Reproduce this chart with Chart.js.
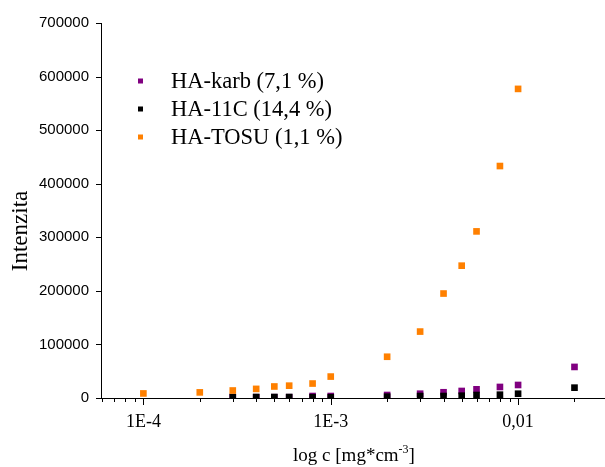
<!DOCTYPE html>
<html>
<head>
<meta charset="utf-8">
<script src="https://cdn.jsdelivr.net/npm/chart.js@4.4.1/dist/chart.umd.min.js"></script>
<style>
  html, body { margin: 0; padding: 0; background: #ffffff; }
  #wrap { width: 605px; height: 467px; }
</style>
</head>
<body>
<div id="wrap"><canvas id="chart" width="605" height="467"></canvas></div>
<script>
// Series names and colours
const seriesNames = ['HA-karb (7,1 %)', 'HA-11C (14,4 %)', 'HA-TOSU (1,1 %)'];
const seriesColors = ['#800080', '#000000', '#ff8000'];

// Concentration c [mg*cm^-3] and measured intensity for each sample
const concKarb = [3e-4, 4e-4, 5e-4, 6e-4, 8e-4, 1e-3, 2e-3, 3e-3, 4e-3, 5e-3, 6e-3, 8e-3, 1e-2, 2e-2];
const intKarb  = [1500, 1500, 1500, 1500, 3700, 3700, 5600, 8000, 10700, 13100, 16200, 20600, 24300, 58000];

const conc11C = [3e-4, 4e-4, 5e-4, 6e-4, 8e-4, 1e-3, 2e-3, 3e-3, 4e-3, 5e-3, 6e-3, 8e-3, 1e-2, 2e-2];
const int11C  = [1800, 1800, 1800, 1800, 1500, 1500, 2500, 3700, 3700, 4300, 5600, 6200, 8000, 19300];

const concTosu = [1e-4, 2e-4, 3e-4, 4e-4, 5e-4, 6e-4, 8e-4, 1e-3, 2e-3, 3e-3, 4e-3, 5e-3, 6e-3, 8e-3, 1e-2];
const intTosu  = [8500, 10500, 14000, 17000, 21500, 23000, 27000, 40000, 77000, 124000, 195000, 247000, 311000, 433000, 577000];

// Axis ticks and labels
const xMajorTicks  = [1e-4, 1e-3, 1e-2];
const xMajorLabels = ['1E-4', '1E-3', '0,01'];
const xMin = 5.94e-5, xMax = 0.0291;
const yTicks = [0, 100000, 200000, 300000, 400000, 500000, 600000, 700000];

const yTitle = 'Intenzita';
const xTitleMain = 'log c [mg*cm';
const xTitleSup = '-3';
const xTitleEnd = ']';

const serif = '"Liberation Serif", "Times New Roman", Times, serif';
const sans = '"Liberation Sans", Arial, Helvetica, sans-serif';

function toPoints(xs, ys) {
  return xs.map((x, i) => ({ x: x, y: ys[i] }));
}

// All log-scale tick positions (1..9 per decade) inside the axis range
function logTickValues(min, max) {
  const out = [];
  for (let e = Math.floor(Math.log10(min)); e <= Math.ceil(Math.log10(max)); e++) {
    for (let m = 1; m <= 9; m++) {
      const v = +(m * Math.pow(10, e)).toPrecision(6);
      if (v >= min && v <= max) out.push(v);
    }
  }
  return out;
}

function isMajor(v) {
  return xMajorTicks.some(t => Math.abs(v - t) / t < 1e-6);
}

// Tick marks: outward on both axes, longer at each decade
const tickMarks = {
  id: 'tickMarks',
  afterDraw(chart) {
    const ctx = chart.ctx;
    const xs = chart.scales.x, ys = chart.scales.y;
    const area = chart.chartArea;
    ctx.save();
    ctx.strokeStyle = '#000';
    ctx.lineWidth = 1;
    ctx.beginPath();
    xs.ticks.forEach(t => {
      const px = Math.round(xs.getPixelForValue(t.value)) + 0.5;
      const len = isMajor(t.value) ? 7 : 4;
      ctx.moveTo(px, area.bottom);
      ctx.lineTo(px, area.bottom + len);
    });
    ys.ticks.forEach(t => {
      const py = Math.round(ys.getPixelForValue(t.value)) + 0.5;
      ctx.moveTo(area.left - 5, py);
      ctx.lineTo(area.left, py);
    });
    ctx.stroke();
    ctx.restore();
  }
};

// Axis titles (x title carries a superscript exponent)
const axisTitles = {
  id: 'axisTitles',
  afterDraw(chart) {
    const ctx = chart.ctx;
    ctx.save();
    ctx.fillStyle = '#000';

    // y title, rotated
    ctx.font = '23px ' + serif;
    ctx.textAlign = 'center';
    ctx.textBaseline = 'middle';
    ctx.translate(21, 231);
    ctx.rotate(-Math.PI / 2);
    ctx.fillText(yTitle, 0, 0);
    ctx.setTransform(1, 0, 0, 1, 0, 0);

    // x title
    const mainFont = '19px ' + serif;
    const supFont = '12px ' + serif;
    ctx.font = mainFont;
    const w1 = ctx.measureText(xTitleMain).width;
    const w3 = ctx.measureText(xTitleEnd).width;
    ctx.font = supFont;
    const w2 = ctx.measureText(xTitleSup).width;
    const total = w1 + w2 + w3;
    const cx = 354, base = 461;
    let x = cx - total / 2;
    ctx.textAlign = 'left';
    ctx.textBaseline = 'alphabetic';
    ctx.font = mainFont;
    ctx.fillText(xTitleMain, x, base);
    x += w1;
    ctx.font = supFont;
    ctx.fillText(xTitleSup, x, base - 8);
    x += w2;
    ctx.font = mainFont;
    ctx.fillText(xTitleEnd, x, base);
    ctx.restore();
  }
};

// Legend inside the plot area
const innerLegend = {
  id: 'innerLegend',
  afterDraw(chart) {
    const ctx = chart.ctx;
    ctx.save();
    ctx.font = '22.5px ' + serif;
    ctx.textAlign = 'left';
    ctx.textBaseline = 'middle';
    seriesNames.forEach((name, i) => {
      const y = 81 + i * 28;
      ctx.fillStyle = seriesColors[i];
      ctx.fillRect(138, y - 2.5, 5, 5);
      ctx.fillStyle = '#000';
      ctx.fillText(name, 171, y + 1);
    });
    ctx.restore();
  }
};

const pointBase = {
  showLine: false,
  pointStyle: 'rect',
  pointRadius: 4.7,
  pointHoverRadius: 4.7,
  borderWidth: 0,
  clip: 0
};

new Chart(document.getElementById('chart'), {
  type: 'scatter',
  data: {
    datasets: [
      Object.assign({}, pointBase, {
        label: seriesNames[0],
        data: toPoints(concKarb, intKarb),
        backgroundColor: seriesColors[0],
        borderColor: seriesColors[0],
        order: 2
      }),
      Object.assign({}, pointBase, {
        label: seriesNames[1],
        data: toPoints(conc11C, int11C),
        backgroundColor: seriesColors[1],
        borderColor: seriesColors[1],
        order: 1
      }),
      Object.assign({}, pointBase, {
        label: seriesNames[2],
        data: toPoints(concTosu, intTosu),
        backgroundColor: seriesColors[2],
        borderColor: seriesColors[2],
        order: 0
      })
    ]
  },
  options: {
    responsive: false,
    animation: false,
    devicePixelRatio: 1,
    layout: { autoPadding: false, padding: { top: 23, right: 0, left: 0, bottom: 0 } },
    plugins: {
      legend: { display: false },
      tooltip: { enabled: false },
      title: { display: false }
    },
    scales: {
      x: {
        type: 'logarithmic',
        min: xMin,
        max: xMax,
        afterBuildTicks(scale) {
          scale.ticks = logTickValues(xMin, xMax).map(v => ({ value: v, major: isMajor(v) }));
        },
        afterFit(scale) { scale.height = 69; },
        grid: { display: false, drawTicks: false },
        border: { display: true, color: '#000', width: 1 },
        ticks: {
          autoSkip: false,
          maxRotation: 0,
          minRotation: 0,
          padding: 13,
          color: '#000',
          font: { family: serif, size: 18 },
          callback(value) {
            const idx = xMajorTicks.findIndex(t => Math.abs(value - t) / t < 1e-6);
            return idx >= 0 ? xMajorLabels[idx] : '';
          }
        }
      },
      y: {
        type: 'linear',
        min: 0,
        max: 700000,
        afterBuildTicks(scale) {
          scale.ticks = yTicks.map(v => ({ value: v }));
        },
        afterFit(scale) { scale.width = 101; },
        grid: { display: false, drawTicks: false },
        border: { display: true, color: '#000', width: 1 },
        ticks: {
          padding: 12,
          color: '#000',
          font: { family: sans, size: 15 },
          callback(value) { return String(value); }
        }
      }
    }
  },
  plugins: [tickMarks, axisTitles, innerLegend]
});
</script>
</body>
</html>
